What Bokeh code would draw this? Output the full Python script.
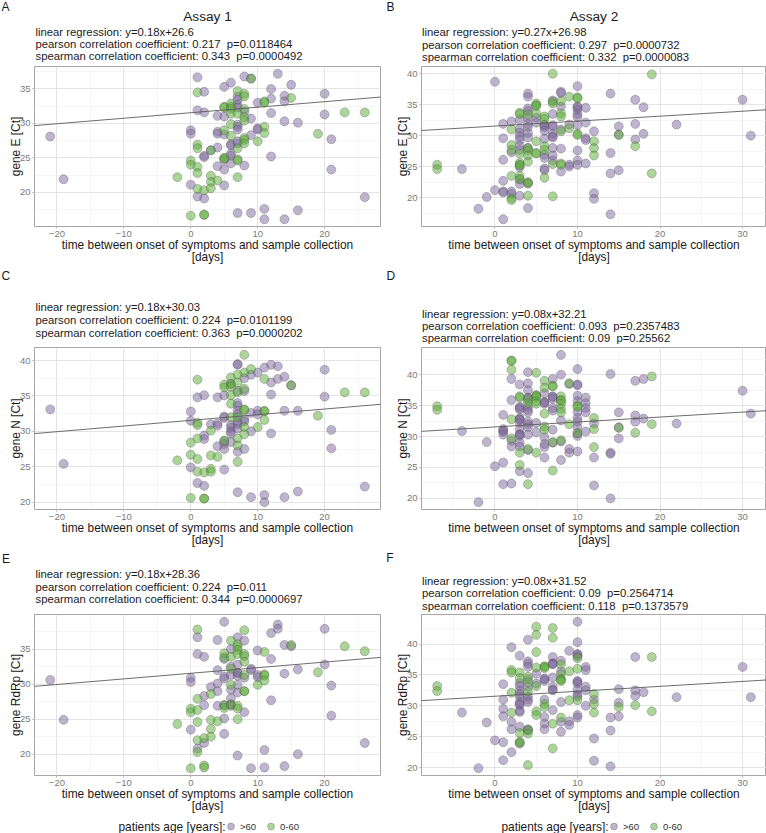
from bokeh.plotting import figure
from bokeh.models import Range1d, SingleIntervalTicker, Slope, Legend, LegendItem
from bokeh.core.properties import value
from bokeh.layouts import column, row
from bokeh.embed import file_html
from bokeh.resources import INLINE

FONT = "Liberation Sans"

# ---------------- data: (day, [Ct of patients >60], [Ct of patients 0-60]) ----------------
gene_E_assay1 = [
    (-21, [28.1], []), (-19, [21.9], []), (-2, [], [22.2]),
    (0, [29.0, 28.5, 21.1], [24.6, 24.0, 16.6]),
    (1, [36.7, 31.9, 19.4], [34.5, 26.9, 26.4, 23.7, 22.8, 20.5]),
    (2, [34.6, 31.6, 25.3, 25.1, 19.1], [20.3, 16.7, 16.8]),
    (3, [26.1], [26.1, 22.4, 21.5, 20.6]),
    (4, [31.1, 28.8, 28.5, 26.5, 23.8], [21.7]),
    (5, [35.3, 31.0, 28.4, 24.7, 23.3, 21.0], [32.4, 32.3, 29.0, 25.0, 24.9]),
    (6, [35.9, 27.0, 26.8, 25.6, 25.3, 24.2], [32.9, 32.4, 32.1, 31.4, 29.9, 28.2]),
    (7, [33.9, 33.4, 32.7, 32.3, 29.8, 29.5, 29.1, 27.4, 27.1, 17.0], [34.7, 31.4, 26.4, 24.8, 24.6, 22.2]),
    (8, [36.8, 31.7, 23.9], [34.3, 33.9, 32.1, 30.9, 30.4, 27.9, 27.6, 27.1]),
    (9, [36.5, 30.7, 28.3, 17.0], [36.5]),
    (10, [33.0, 29.3, 29.1], [27.4]),
    (11, [17.6, 16.1], [33.2, 33.0, 29.5, 28.6]),
    (12, [35.0, 33.6, 31.5, 25.2], []), (13, [37.2], []),
    (14, [34.0, 33.2, 30.3, 16.1], []), (15, [35.6], [33.7]),
    (16, [30.1, 17.4], []), (19, [], [28.5]), (20, [34.3, 31.3], []),
    (21, [27.7, 23.3], []), (23, [], [31.6]), (26, [19.3], [31.6]),
]
gene_E_assay2 = [
    (-7, [], [25.3, 24.6]), (-4, [24.6], []), (-2, [18.2], []), (-1, [20.1], []),
    (0, [38.7, 21.2], []),
    (1, [31.9, 29.6, 26.1, 22.7, 21.0, 20.8, 16.5], []),
    (2, [32.3, 27.3, 21.0, 20.6], [31.0, 28.5, 27.7, 23.5, 19.9, 19.6]),
    (3, [32.6, 31.1, 30.5, 29.9, 29.3, 28.4, 27.7, 24.9, 22.9, 22.2, 20.3], [33.7, 33.5, 27.1, 25.6, 25.3, 25.2, 23.5, 23.0]),
    (4, [36.8, 36.3, 34.4, 34.0, 32.9, 31.9, 31.4, 30.4, 29.7, 28.0, 22.3, 18.3], [33.4, 28.0, 27.6, 26.8, 25.8, 22.5, 22.3, 20.3]),
    (5, [32.9, 32.1], [35.2, 34.9, 34.8, 33.6, 29.1, 27.2, 27.1]),
    (6, [31.8, 31.6, 31.4, 30.8, 29.5, 26.9, 26.4, 24.7, 24.4], [33.1, 32.7, 28.3, 27.7, 23.2]),
    (7, [35.7, 33.5, 31.7, 31.5, 30.3, 29.9, 29.7, 28.0, 26.8, 26.0], [40.0, 35.5, 35.2, 25.4, 20.2]),
    (8, [37.1, 36.9, 34.7, 31.0, 27.9, 24.2], [35.6, 33.6, 33.1, 30.7, 25.5, 25.3]),
    (9, [31.8, 25.3, 25.0], [36.3, 31.2]),
    (10, [38.0, 34.7, 34.6, 34.2, 33.5, 33.0, 31.7, 27.6, 26.0, 25.3], [36.2, 36.0, 30.3, 30.1]),
    (11, [34.5, 32.1, 29.6, 29.3, 25.5], []),
    (12, [30.7, 20.7, 19.8], [29.1, 28.0, 26.8]),
    (14, [36.8, 27.2, 23.9, 17.3], []), (15, [31.5, 30.2, 24.4], [30.1]),
    (17, [35.8, 31.9, 29.4], [28.3]), (18, [34.6, 30.3], []), (19, [], [39.9, 23.9]),
    (22, [31.8], []), (30, [35.8], []), (31, [30.0], []),
]
gene_N_assay1 = [
    (-21, [33.1], []), (-19, [25.4], []), (-2, [], [25.9]),
    (0, [32.8, 31.5, 24.9], [28.4, 26.7, 20.6]),
    (1, [34.8, 22.7], [37.3, 31.2, 30.9, 29.0, 26.1, 24.3]),
    (2, [35.1, 29.4, 28.9, 22.3], [24.2, 20.5, 20.5]),
    (3, [31.0], [30.1, 26.6, 24.7, 24.3]),
    (4, [34.8, 31.1, 30.8, 27.9], [26.4]),
    (5, [35.1, 32.1, 31.9, 28.6, 28.2, 27.5, 24.6], [36.6, 36.2, 28.7]),
    (6, [36.7, 30.9, 30.5, 30.0, 29.7, 28.5], [37.6, 36.7, 36.3, 35.1, 33.9, 32.0]),
    (7, [39.5, 39.4, 35.7, 34.0, 33.6, 32.9, 32.4, 31.3, 31.0, 30.4, 27.1, 21.4], [38.0, 36.9, 35.5, 32.0, 29.0, 28.0, 25.7]),
    (8, [37.5, 35.7, 31.7, 31.4, 27.5], [40.8, 38.3, 36.0, 33.1, 33.0, 30.6, 29.6]),
    (9, [38.0, 32.6, 30.0, 20.7], [38.8]),
    (10, [38.3, 32.9, 32.4], [30.6]),
    (11, [39.0, 21.0, 20.0], [37.4, 32.9, 32.8, 31.6]),
    (12, [39.4, 36.9, 35.2, 29.7], []), (13, [39.2, 37.4], []),
    (14, [37.7, 32.9, 20.7], []), (15, [36.5], [36.5]),
    (16, [32.9, 21.5], []), (19, [], [32.2]), (20, [38.7, 34.9], []),
    (21, [30.2, 27.6], []), (23, [], [35.5]), (26, [22.2], [35.5]),
]
gene_N_assay2 = [
    (-7, [], [34.9, 34.3]), (-4, [30.9], []), (-2, [19.4], []), (-1, [29.1], []), (0, [25.2], []),
    (1, [33.5, 31.2, 30.9, 30.8, 30.3, 25.8, 22.3], []),
    (2, [39.3, 35.9, 29.3, 28.4, 22.4], [42.3, 42.2, 40.8, 32.8, 29.7]),
    (3, [38.4, 34.8, 34.6, 34.4, 33.0, 32.8, 32.7, 32.2, 31.2, 30.4, 30.3, 30.1, 29.0, 28.4, 24.4], [36.5, 36.3, 27.4, 25.4]),
    (4, [40.4, 38.6, 37.5, 36.3, 36.2, 34.8, 34.3, 33.9, 32.4, 32.0, 31.5, 30.3, 27.8, 24.1], [35.9, 35.4, 28.0, 22.3]),
    (5, [32.2, 30.7], [40.3, 36.7, 36.6, 36.4, 35.7, 35.3, 27.4]),
    (6, [37.0, 35.6, 35.5, 35.3, 29.9, 28.8, 28.3, 26.6], [39.0, 37.9, 33.7, 31.6, 31.1]),
    (7, [39.3, 36.5, 36.4, 36.1, 34.6, 34.2, 31.1, 29.0], [38.2, 38.1, 29.1, 24.5]),
    (8, [43.2, 40.0, 32.6, 29.2, 26.2], [36.5, 35.9, 35.8, 35.3, 34.5, 33.9, 29.4]),
    (9, [38.5, 28.0, 27.4], [38.6, 32.0]),
    (10, [40.9, 38.4, 38.3, 36.6, 35.7, 34.0, 33.0, 32.4, 31.5, 30.5, 30.1, 27.6], [35.0, 34.8, 30.6]),
    (11, [36.3, 35.4, 34.6, 33.9, 30.8], []),
    (12, [32.1, 26.6, 22.1], [33.0, 31.2, 28.3]),
    (14, [40.1, 27.4, 27.2, 20.0], []), (15, [33.9, 31.5, 29.7], [31.4]),
    (17, [39.0, 33.4, 32.4], [30.6]), (18, [39.3, 32.9], []), (19, [], [39.7, 32.0]),
    (22, [32.1], []), (30, [37.4], []), (31, [33.7], []),
]
gene_RdRp_assay1 = [
    (-21, [30.6], []), (-19, [24.9], []), (-2, [], [24.3]),
    (0, [30.9, 30.3, 23.5], [26.5, 26.0, 18.0]),
    (1, [36.7, 34.3, 20.8], [37.8, 27.9, 26.3, 24.6, 22.0, 20.3]),
    (2, [33.9, 28.3, 27.0, 21.6], [22.3, 18.4, 18.1]),
    (3, [29.6], [28.6, 24.9, 23.6, 22.5]),
    (4, [36.3, 32.0, 30.1, 29.0, 26.9], [24.7]),
    (5, [38.9, 33.6, 31.1, 30.8, 27.0, 25.1, 22.9], [34.4, 33.8, 27.0, 26.6]),
    (6, [35.0, 32.5, 31.3, 29.2, 28.0, 27.1, 26.9], [36.2, 33.9, 32.2, 29.9, 27.1]),
    (7, [36.7, 32.8, 31.6, 31.6, 31.2, 29.9, 28.8, 19.8], [35.7, 35.3, 34.9, 34.3, 26.9, 26.5, 25.0]),
    (8, [36.2, 30.9, 26.0], [37.7, 34.3, 34.0, 33.2, 31.3, 29.0, 29.0]),
    (9, [32.2, 32.0, 18.0], []),
    (10, [34.8, 31.3, 31.0], [29.9]),
    (11, [20.6, 18.1], [34.6, 31.4, 31.2, 30.5]),
    (12, [37.3, 33.6, 27.7], []), (13, [38.5, 37.9], []),
    (14, [35.6, 31.5, 18.3], []), (15, [35.4], [35.6]),
    (16, [32.1, 20.0], []), (19, [], [31.7]), (20, [37.9, 32.8], []),
    (21, [29.8, 25.5], []), (23, [], [35.4]), (26, [21.6], [34.7]),
]
gene_RdRp_assay2 = [
    (-7, [], [33.2, 32.4]), (-4, [28.9], []), (-2, [19.9], []), (-1, [27.3], []), (0, [24.4], []),
    (1, [33.5, 31.0, 29.5, 28.3, 24.1, 21.2], []),
    (2, [39.5, 27.4, 26.2, 22.5], [35.8, 35.4, 32.1, 28.9]),
    (3, [38.1, 33.7, 33.2, 32.4, 31.9, 31.5, 30.6, 30.3, 30.1, 29.2, 29.0, 26.6, 23.9], [35.4, 34.5, 25.6, 24.2, 24.0]),
    (4, [40.7, 37.2, 36.8, 36.3, 34.3, 33.1, 31.5, 31.0, 30.6, 26.2, 26.0], [34.7, 33.8, 32.3, 26.1, 25.5, 20.4]),
    (5, [35.2, 33.6], [42.8, 41.5, 38.7, 36.2, 33.2, 29.1, 28.5]),
    (6, [34.4, 34.3, 34.0, 31.0, 28.2, 27.1, 26.2], [36.4, 36.3, 36.1, 30.3, 29.8]),
    (7, [37.9, 36.9, 36.8, 36.7, 34.6, 33.1, 32.6, 32.5, 29.3], [42.6, 41.0, 27.1, 23.1]),
    (8, [37.3, 35.6, 30.6, 27.4, 25.8], [36.7, 35.1, 34.3, 34.2, 34.0, 28.1]),
    (9, [38.9, 27.5, 26.9], [35.6, 30.9]),
    (10, [43.6, 40.3, 38.4, 38.3, 38.0, 34.0, 33.9, 33.6, 32.6, 31.8, 31.5, 28.5, 28.1], [37.7, 36.0, 30.9]),
    (11, [36.3, 35.8, 33.1, 32.5, 30.0], []),
    (12, [31.0, 24.7, 21.1], [31.9, 30.3, 28.9]),
    (14, [28.1, 26.0, 20.2], []), (15, [32.7, 30.5, 28.3], [29.8]),
    (17, [37.9, 32.5, 31.6], [30.1]), (18, [32.2], []), (19, [], [37.9, 29.1]),
    (22, [31.4], []), (30, [36.3], []), (31, [31.4], []),
]

panel_data = [gene_E_assay1, gene_E_assay2, gene_N_assay1, gene_N_assay2, gene_RdRp_assay1, gene_RdRp_assay2]
panel_letters = ["A", "B", "C", "D", "E", "F"]
assay_titles = ["Assay 1", "Assay 2", "", "", "", ""]
y_labels = ["gene E [Ct]", "gene E [Ct]", "gene N [Ct]", "gene N [Ct]", "gene RdRp [Ct]", "gene RdRp [Ct]"]
SP2 = " \u00a0"  # the double space before "p="
stat_lines = [
    ["linear regression: y=0.18x+26.6", "pearson correlation coefficient: 0.217" + SP2 + "p=0.0118464", "spearman correlation coefficient: 0.343" + SP2 + "p=0.0000492"],
    ["linear regression: y=0.27x+26.98", "pearson correlation coefficient: 0.297" + SP2 + "p=0.0000732", "spearman correlation coefficient: 0.332" + SP2 + "p=0.0000083"],
    ["linear regression: y=0.18x+30.03", "pearson correlation coefficient: 0.224" + SP2 + "p=0.0101199", "spearman correlation coefficient: 0.363" + SP2 + "p=0.0000202"],
    ["linear regression: y=0.08x+32.21", "pearson correlation coefficient: 0.093" + SP2 + "p=0.2357483", "spearman correlation coefficient: 0.09" + SP2 + "p=0.25562"],
    ["linear regression: y=0.18x+28.36", "pearson correlation coefficient: 0.224" + SP2 + "p=0.011", "spearman correlation coefficient: 0.344" + SP2 + "p=0.0000697"],
    ["linear regression: y=0.08x+31.52", "pearson correlation coefficient: 0.09" + SP2 + "p=0.2564714", "spearman correlation coefficient: 0.118" + SP2 + "p=0.1373579"],
]
# fitted line drawn in every panel (as in the original figure)
line_slope = [0.08, 0.08, 0.08, 0.08, 0.08, 0.08]
line_intercept = [31.55, 31.55, 31.55, 31.55, 31.55, 31.55]
x_label = "time between onset of symptoms and sample collection\n[days]"
legend_title = "patients age [years]:"
legend_labels = [">60", "0-60"]

PURPLE = "#7f6a9f"
GREEN = "#5aab36"
TXT = "#1a1a1a"

# ---------------- layout (pixels) ----------------
COL_W = 383
COLS = [dict(left=34, fw=346, right=3), dict(left=38, fw=345, right=0)]
ROWS = [dict(head=65, fh=160, bottom=44), dict(head=76, fh=162, bottom=41), dict(head=63, fh=161, bottom=44)]
FOOT_H = 14
# per panel: letter (x, y), title y, stats x, stats ys  (inside the header strip)
HEAD = [
    dict(letter=(1, 6.5), title_y=16, sx=35, sy=[31.7, 43.6, 55.7]),
    dict(letter=(3, 6.7), title_y=16, sx=38.5, sy=[31.7, 44.0, 56.0]),
    dict(letter=(1, 5.0), title_y=0, sx=35, sy=[36.0, 49.3, 62.3]),
    dict(letter=(3, 5.3), title_y=0, sx=38.5, sy=[43.3, 55.0, 67.3]),
    dict(letter=(1.5, 8.3), title_y=0, sx=35, sy=[23.3, 36.0, 48.7]),
    dict(letter=(2.7, 7.3), title_y=0, sx=38.5, sy=[30.0, 42.3, 55.0]),
]


def blank(h):
    p = figure(width=COL_W, height=h, x_range=Range1d(0, COL_W), y_range=Range1d(h, 0),
               x_axis_type=None, y_axis_type=None, min_border=0,
               output_backend="svg", toolbar_location=None, tools="")
    p.outline_line_color = None
    p.background_fill_color = "white"
    p.border_fill_color = "white"
    return p


def header(i):
    r, c = divmod(i, 2)
    H, C = HEAD[i], COLS[c]
    p = blank(ROWS[r]["head"])
    p.text(x=[H["letter"][0]], y=[H["letter"][1]], text=[panel_letters[i]],
           text_font=value(FONT), text_font_size=value("12px"), text_color=TXT,
           text_align="left", text_baseline="middle")
    if assay_titles[i]:
        p.text(x=[C["left"] + C["fw"] / 2], y=[H["title_y"]], text=[assay_titles[i]],
               text_font=value(FONT), text_font_size=value("13.7px"), text_color=TXT,
               text_align="center", text_baseline="middle")
    p.text(x=[H["sx"]] * 3, y=H["sy"], text=stat_lines[i],
           text_font=value(FONT), text_font_size=value("11.3px"), text_color=TXT,
           text_align="left", text_baseline="middle")
    return p


def panel(i):
    r, c = divmod(i, 2)
    R, C = ROWS[r], COLS[c]
    data = panel_data[i]
    xo = [d for d, old, yng in data for _ in old]
    yo = [v for d, old, yng in data for v in old]
    xg = [d for d, old, yng in data for _ in yng]
    yg = [v for d, old, yng in data for v in yng]
    ax_, ay_ = xo + xg, yo + yg
    x0, x1 = min(ax_), max(ax_)
    y0, y1 = min(ay_), max(ay_)
    dx, dy = 0.05 * (x1 - x0), 0.05 * (y1 - y0)

    p = figure(frame_width=C["fw"], frame_height=R["fh"],
               min_border_left=C["left"], min_border_right=C["right"],
               min_border_top=1, min_border_bottom=R["bottom"],
               x_range=Range1d(x0 - dx, x1 + dx), y_range=Range1d(y0 - dy, y1 + dy),
               output_backend="svg", toolbar_location=None, tools="")
    p.background_fill_color = "white"
    p.border_fill_color = "white"
    p.outline_line_color = "#a6a6a6"
    p.outline_line_width = 1

    xt = SingleIntervalTicker(interval=10, num_minor_ticks=2)
    yt = SingleIntervalTicker(interval=5, num_minor_ticks=2)
    p.xaxis.ticker = xt
    p.xgrid.ticker = xt
    p.yaxis.ticker = yt
    p.ygrid.ticker = yt
    for g in (p.xgrid[0], p.ygrid[0]):
        g.grid_line_color = "#e4e4e4"
        g.grid_line_width = 1
        g.minor_grid_line_color = "#f1f1f1"
        g.minor_grid_line_width = 0.7
    for ax in (p.xaxis[0], p.yaxis[0]):
        ax.axis_line_color = None
        ax.major_tick_line_color = "#b3b3b3"
        ax.major_tick_out = 2
        ax.major_tick_in = 0
        ax.minor_tick_line_color = None
        ax.major_label_text_font = FONT
        ax.major_label_text_font_size = "9.5px"
        ax.major_label_text_color = "#7a7a7a"
        ax.major_label_standoff = 0
        ax.axis_label_text_font = FONT
        ax.axis_label_text_font_size = "11.9px"
        ax.axis_label_text_font_style = "normal"
        ax.axis_label_text_color = TXT
    p.xaxis.axis_label = x_label
    p.xaxis.axis_label_standoff = -2
    p.xaxis.axis_label_text_line_height = 0.86
    p.yaxis.axis_label = y_labels[i]
    p.yaxis.axis_label_standoff = -6

    p.scatter(xo, yo, marker="circle", size=9, fill_color=PURPLE, fill_alpha=0.5,
              line_color="#4d4d4d", line_alpha=0.45, line_width=0.7)
    p.scatter(xg, yg, marker="circle", size=9, fill_color=GREEN, fill_alpha=0.5,
              line_color="#4d4d4d", line_alpha=0.45, line_width=0.7)
    p.add_layout(Slope(gradient=line_slope[i], y_intercept=line_intercept[i],
                       line_color="#5c5c5c", line_width=0.9))
    return p


def footer():
    p = blank(FOOT_H)
    nan = float("nan")
    # legend-only renderers (no visible data point)
    r_o = p.scatter(x=[nan], y=[nan], marker="circle", size=7, fill_color=PURPLE, fill_alpha=0.5,
                    line_color="#4d4d4d", line_alpha=0.45, line_width=0.7)
    r_g = p.scatter(x=[nan], y=[nan], marker="circle", size=7, fill_color=GREEN, fill_alpha=0.5,
                    line_color="#4d4d4d", line_alpha=0.45, line_width=0.7)
    p.text(x=[225], y=[FOOT_H / 2], text=[legend_title], text_font=value(FONT),
           text_font_size=value("11.9px"), text_color=TXT, text_align="right", text_baseline="middle")
    legend = Legend(items=[LegendItem(label=legend_labels[0], renderers=[r_o]),
                           LegendItem(label=legend_labels[1], renderers=[r_g])],
                    orientation="horizontal", location=(222, -2),
                    label_text_font=FONT, label_text_font_size="9.5px", label_text_color="#333333",
                    glyph_width=17, glyph_height=18, label_standoff=1, label_height=12, label_width=20,
                    spacing=2, padding=0, margin=0,
                    border_line_color=None, background_fill_alpha=0)
    p.add_layout(legend)
    return p


rows = []
for r in range(3):
    rows.append(row(header(2 * r), header(2 * r + 1)))
    rows.append(row(panel(2 * r), panel(2 * r + 1)))
rows.append(row(footer(), footer()))
layout = column(*rows)
open("out.html", "w").write(file_html(layout, INLINE))
